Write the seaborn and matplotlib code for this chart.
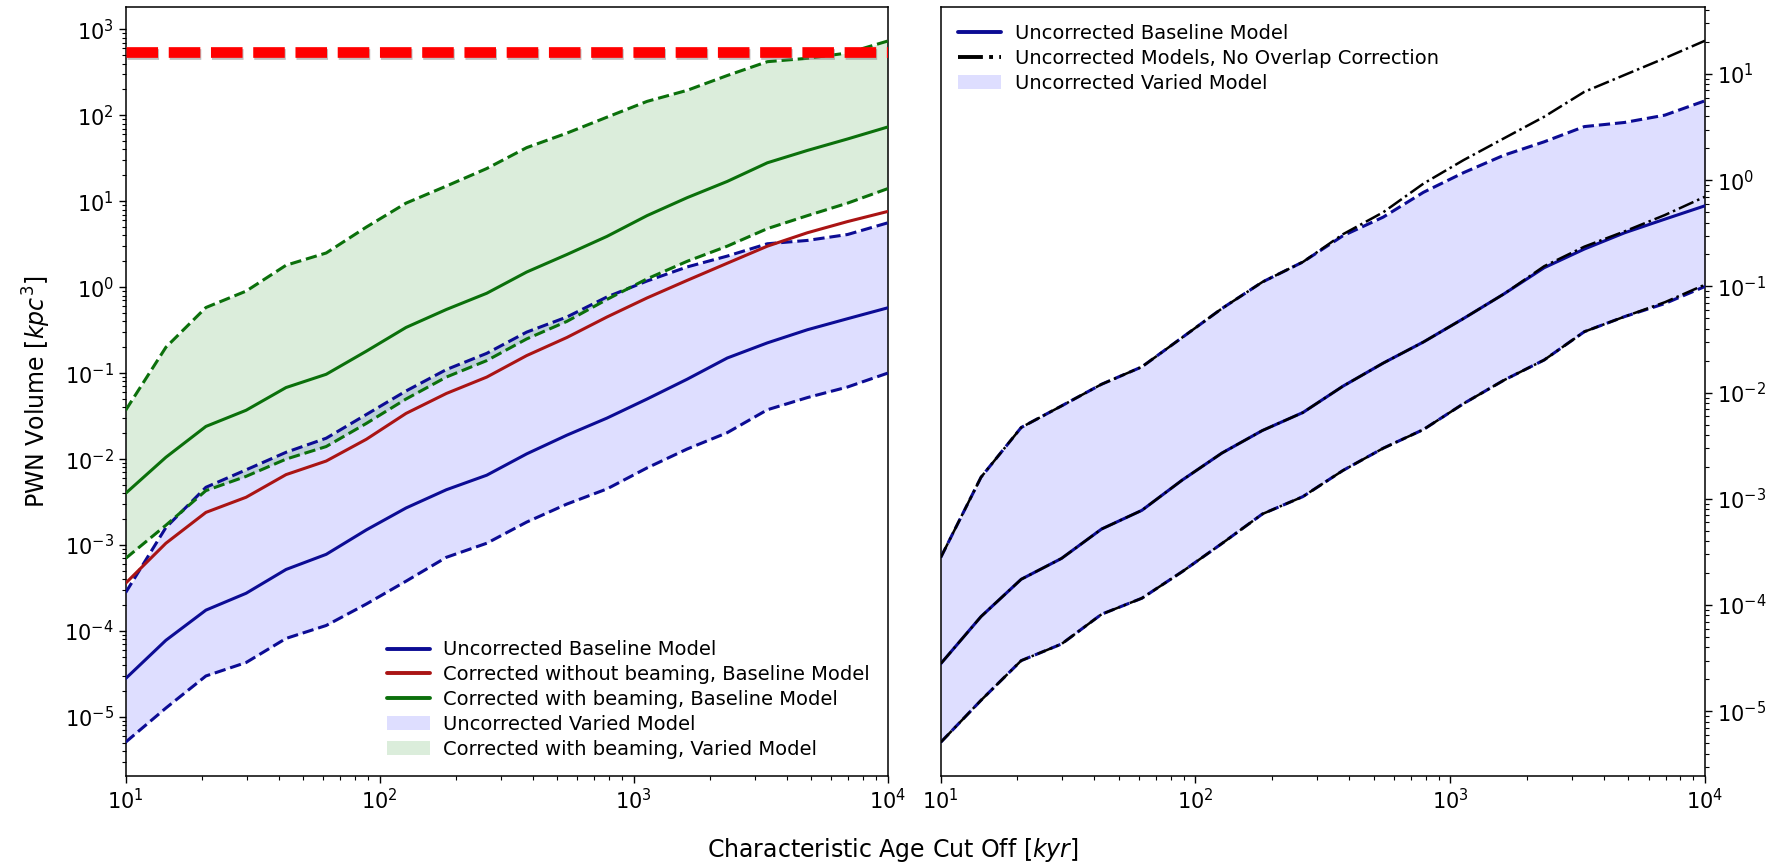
import matplotlib
matplotlib.use("Agg")
import matplotlib.pyplot as plt
import matplotlib.patheffects as pe
from matplotlib.lines import Line2D
from matplotlib.patches import Patch
import seaborn as sns

# Characteristic age cut-off [kyr]
age = [10, 14.4, 20.7, 29.8, 42.8, 61.6, 88.6, 127, 183, 264,
       379, 546, 785, 1129, 1624, 2336, 3360, 4833, 6952, 10000]

# Uncorrected baseline model and spread of the varied models [kpc^3]
unc_base = [2.8e-5, 7.8e-5, 1.75e-4, 2.75e-4, 5.2e-4, 7.8e-4, 1.5e-3, 2.7e-3, 4.4e-3, 6.5e-3,
            1.15e-2, 1.9e-2, 3.0e-2, 5.0e-2, 8.5e-2, 0.15, 0.225, 0.32, 0.43, 0.575]
unc_min = [5.1e-6, 1.27e-5, 3.0e-5, 4.3e-5, 8.2e-5, 1.16e-4, 2.06e-4, 3.8e-4, 7.2e-4, 1.05e-3,
           1.85e-3, 3.0e-3, 4.5e-3, 7.9e-3, 1.31e-2, 2.03e-2, 3.75e-2, 5.2e-2, 6.9e-2, 0.1]
unc_max = [2.8e-4, 1.6e-3, 4.7e-3, 7.5e-3, 1.2e-2, 1.75e-2, 3.3e-2, 6.2e-2, 0.11, 0.17,
           0.30, 0.45, 0.77, 1.18, 1.72, 2.3, 3.2, 3.5, 4.1, 5.6]

# Corrected volumes
corr_nobeam = [3.6e-4, 1.05e-3, 2.4e-3, 3.6e-3, 6.6e-3, 9.5e-3, 1.7e-2, 3.4e-2, 5.8e-2, 9.0e-2,
               0.16, 0.26, 0.45, 0.75, 1.2, 1.9, 3.0, 4.3, 5.8, 7.6]
corr_beam = [4.0e-3, 1.05e-2, 2.4e-2, 3.7e-2, 6.8e-2, 9.7e-2, 0.18, 0.34, 0.55, 0.85,
             1.5, 2.4, 3.9, 6.8, 11, 17, 28, 39, 53, 73]
corr_beam_min = [7.0e-4, 1.7e-3, 4.3e-3, 6.3e-3, 1.0e-2, 1.4e-2, 2.6e-2, 5.0e-2, 9.0e-2, 0.14,
                 0.25, 0.40, 0.72, 1.25, 2.0, 3.0, 4.8, 6.8, 9.5, 14]
corr_beam_max = [0.037, 0.2, 0.58, 0.9, 1.8, 2.5, 5.0, 9.5, 15, 24,
                 42, 62, 95, 145, 195, 290, 420, 460, 530, 730]

# Uncorrected models without the overlap correction
noov_base = [2.8e-5, 7.8e-5, 1.75e-4, 2.75e-4, 5.2e-4, 7.8e-4, 1.5e-3, 2.7e-3, 4.4e-3, 6.5e-3,
             1.15e-2, 1.9e-2, 3.0e-2, 5.0e-2, 8.5e-2, 0.155, 0.237, 0.33, 0.47, 0.70]
noov_min = [5.1e-6, 1.27e-5, 3.0e-5, 4.3e-5, 8.2e-5, 1.16e-4, 2.06e-4, 3.8e-4, 7.2e-4, 1.05e-3,
            1.85e-3, 3.0e-3, 4.5e-3, 7.9e-3, 1.31e-2, 2.03e-2, 3.75e-2, 5.2e-2, 7.1e-2, 0.104]
noov_max = [2.8e-4, 1.6e-3, 4.7e-3, 7.5e-3, 1.2e-2, 1.75e-2, 3.3e-2, 6.2e-2, 0.11, 0.17,
            0.31, 0.50, 0.93, 1.55, 2.48, 3.96, 6.8, 9.8, 14.1, 20.6]

# Total volume limit
volume_limit = 550

labels_left = ["Uncorrected Baseline Model",
               "Corrected without beaming, Baseline Model",
               "Corrected with beaming, Baseline Model",
               "Uncorrected Varied Model",
               "Corrected with beaming, Varied Model"]
labels_right = ["Uncorrected Baseline Model",
                "Uncorrected Models, No Overlap Correction",
                "Uncorrected Varied Model"]

sns.set_style("ticks", {"axes.edgecolor": "black", "xtick.color": "black",
                        "ytick.color": "black", "text.color": "black",
                        "axes.labelcolor": "black"})
plt.rcParams["font.family"] = ["DejaVu Sans"]
plt.rcParams["mathtext.fontset"] = "dejavusans"

BLUE = "#0c0c94"
RED = "#aa1414"
GREEN = "#0b700b"
LW = 2.2

fig = plt.figure(figsize=(17.85, 8.68), dpi=100)
ax1 = fig.add_axes([0.0704, 0.10565, 0.4269, 0.88664])
ax2 = fig.add_axes([0.5270, 0.10565, 0.4282, 0.88664])

for ax in (ax1, ax2):
    ax.set_xscale("log")
    ax.set_yscale("log")

# ---- left panel: corrected vs uncorrected volumes ----
ax1.fill_between(age, unc_min, unc_max, color="blue", alpha=0.13, lw=0, zorder=1)
ax1.fill_between(age, corr_beam_min, corr_beam_max, color="green", alpha=0.14, lw=0, zorder=1)

for ys, col, ls in [(unc_min, BLUE, "--"), (unc_max, BLUE, "--"),
                    (corr_beam_min, GREEN, "--"), (corr_beam_max, GREEN, "--"),
                    (unc_base, BLUE, "-"), (corr_nobeam, RED, "-"), (corr_beam, GREEN, "-")]:
    sns.lineplot(x=age, y=ys, ax=ax1, color=col, lw=LW, linestyle=ls,
                 estimator=None, sort=False, zorder=3)

ax1.axhline(volume_limit, color="red", lw=7.7, linestyle=(0, (2.95, 1.0)), zorder=6,
            path_effects=[pe.SimpleLineShadow(offset=(1.2, -2.0), shadow_color="gray", alpha=0.5),
                          pe.Normal()])

ax1.set_xlim(10, 1e4)
ax1.set_ylim(10 ** -5.69, 10 ** 3.263)
ax1.set_ylabel("PWN Volume [$kpc^3$]", fontsize=17, labelpad=8)

handles_left = [Line2D([], [], color=BLUE, lw=LW + 0.6),
                Line2D([], [], color=RED, lw=LW + 0.6),
                Line2D([], [], color=GREEN, lw=LW + 0.6),
                Patch(facecolor="blue", alpha=0.13, lw=0),
                Patch(facecolor="green", alpha=0.14, lw=0)]
ax1.legend(handles_left, labels_left, loc="lower right", frameon=False,
           fontsize=14, labelspacing=0.3, handlelength=2.2, handletextpad=0.7)

# ---- right panel: effect of the overlap correction ----
ax2.fill_between(age, unc_min, unc_max, color="blue", alpha=0.13, lw=0, zorder=1)
for ys, ls in [(unc_min, "--"), (unc_max, "--"), (unc_base, "-")]:
    sns.lineplot(x=age, y=ys, ax=ax2, color=BLUE, lw=LW, linestyle=ls,
                 estimator=None, sort=False, zorder=3)
for ys in (noov_min, noov_max, noov_base):
    sns.lineplot(x=age, y=ys, ax=ax2, color="black", lw=1.8, linestyle="-.",
                 estimator=None, sort=False, zorder=4)

ax2.set_xlim(10, 1e4)
ax2.set_ylim(10 ** -5.612, 10 ** 1.634)
ax2.yaxis.tick_right()
ax2.yaxis.set_label_position("right")

handles_right = [Line2D([], [], color=BLUE, lw=LW + 0.6),
                 Line2D([], [], color="black", lw=LW + 0.6, linestyle="-."),
                 Patch(facecolor="blue", alpha=0.13, lw=0)]
ax2.legend(handles_right, labels_right, loc="upper left", frameon=False,
           fontsize=14, labelspacing=0.3, handlelength=2.2, handletextpad=0.7)

for ax in (ax1, ax2):
    ax.tick_params(which="major", length=5, width=1, labelsize=15, direction="out")
    ax.tick_params(which="minor", length=3, width=0.8, direction="out")
    for sp in ax.spines.values():
        sp.set_linewidth(1.1)
        sp.set_visible(True)

fig.supxlabel("Characteristic Age Cut Off [$kyr$]", fontsize=17, y=0.005, va="bottom")

fig.savefig("out.png", dpi=100)
